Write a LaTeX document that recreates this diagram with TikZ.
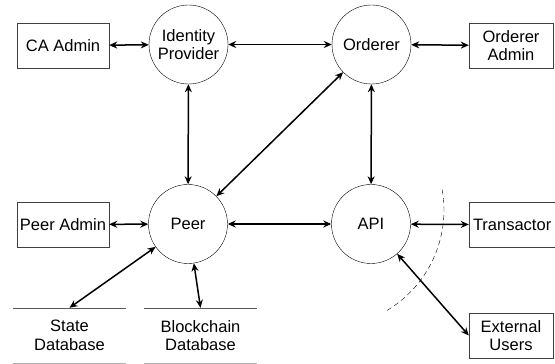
\documentclass[tikz,border=0pt]{standalone}
\usepackage{fontspec}
\setmainfont{Liberation Sans}
\usepackage{tikz}
\usetikzlibrary{arrows.meta}

\begin{document}
\begin{tikzpicture}[x=1pt,y=1pt,font=\fontsize{16.5}{18.5}\selectfont]
    \useasboundingbox (0,0) rectangle (555,364);
    % actors
    \begin{scope}[every node/.style={circle,draw,thin,minimum size=79pt,inner sep=0pt,align=center}]
    \node (idp) at (188.5,319.5) {Identity\\Provider};
    \node (ord) at (371.5,319.5) {Orderer};
    \node (peer) at (188,140) {Peer};
    \node (api) at (371,140) {API};
    \end{scope}
    % admins and users
    \begin{scope}[every node/.style={rectangle,draw=black!75,thin,minimum height=45pt,inner sep=0pt,align=center}]
    \node[minimum width=92pt] (caadm) at (63,318.5) {CA Admin};
    \node[minimum width=84pt] (ordadm) at (511,318.5) {Orderer\\Admin};
    \node[minimum width=92pt] (peeradm) at (63,139.5) {Peer Admin};
    \node[minimum width=96pt,text width=88pt,align=left] (tx) at (517,139.5) {\hspace*{0pt}Transactor};
    \node[minimum width=84pt] (ext) at (511,28.5) {External\\Users};
    \end{scope}
    % databases
    \begin{scope}[every node/.style={minimum width=113pt,minimum height=55pt,inner sep=0pt,align=center}]
    \node (statedb) at (69.5,28.5) {State\\Database};
    \node (chaindb) at (200.5,28.5) {Blockchain\\Database};
    \end{scope}
    \draw[black!65] (statedb.north west) -- (statedb.north east);
    \draw[black!30] (statedb.south west) -- (statedb.south east);
    \draw[black!65] (chaindb.north west) -- (chaindb.north east);
    \draw[black!30] (chaindb.south west) -- (chaindb.south east);
    % links
    \begin{scope}[every edge/.style={draw=black,line width=1.5pt,{Stealth[length=8pt,width=7pt]}-{Stealth[length=8pt,width=7pt]}}]
    \path (caadm) edge (idp);
    \path (idp) edge (ord);
    \path (ord) edge (ordadm);
    \path (idp) edge (peer);
    \path (ord) edge (peer);
    \path (ord) edge (api);
    \path (peeradm) edge (peer);
    \path (peer) edge (api);
    \path (api) edge (tx.west);
    \path (api) edge (ext.west);
    \path (peer) edge (statedb.north);
    \path (peer) edge (chaindb.north);
    \end{scope}
    % trust boundary
    \draw[thin,dash pattern=on 5pt off 3.5pt] (442.2,174.3) arc[start angle=10,end angle=-60,radius=117pt];
\end{tikzpicture}
\end{document}
